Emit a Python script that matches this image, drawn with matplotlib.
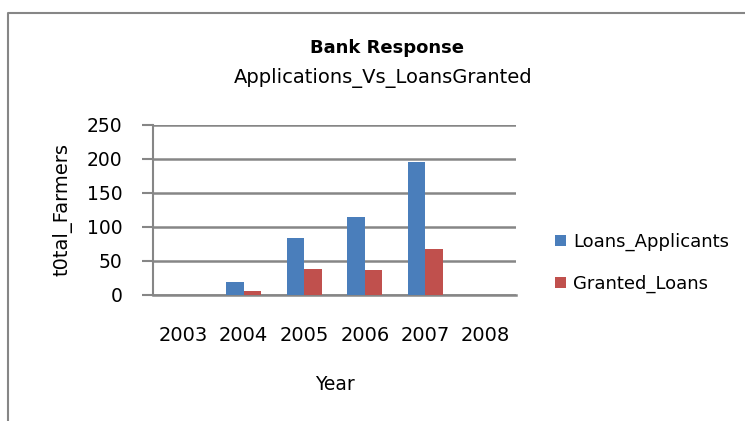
import numpy as np
import matplotlib
matplotlib.use("Agg")
from matplotlib import pyplot as plt
from matplotlib.lines import Line2D

years = ["2003", "2004", "2005", "2006", "2007", "2008"]
applicants = [0, 19, 84, 115, 196, 0]
granted = [0, 6, 38, 37, 68, 0]

blue = "#4a7ebb"
red = "#c0504d"
grey = "#868686"

plt.rcParams["font.family"] = ["DejaVu Sans"]

fig = plt.figure(figsize=(7.45, 4.21), dpi=100)
ax = fig.add_axes([153/745, 1 - 295/421, 363/745, 170/421])

x = np.arange(len(years))
w = 1 / 3.5
ax.bar(x - w/2, applicants, w, color=blue, label="Loans_Applicants", zorder=3)
ax.bar(x + w/2, granted, w, color=red, label="Granted_Loans", zorder=3)

ax.set_xlim(-0.5, len(years) - 0.5)
ax.set_ylim(0, 250)
ax.set_yticks([0, 50, 100, 150, 200, 250])
ax.set_xticks(x)
ax.set_xticklabels(years)
ax.yaxis.grid(True, color=grey, linewidth=1.8, zorder=0)
for s in ["top", "right"]:
    ax.spines[s].set_visible(False)
ax.spines["left"].set_color(grey)
ax.spines["left"].set_linewidth(1.5)
ax.spines["bottom"].set_color(grey)
ax.spines["bottom"].set_linewidth(1.8)
ax.tick_params(axis="y", length=8, width=1.5, color=grey, labelsize=13.5, pad=14)
ax.tick_params(axis="x", length=0, labelsize=14, pad=22)

ax.set_ylabel("t0tal_Farmers", fontsize=14, labelpad=10)
ax.set_xlabel("Year", fontsize=13.5, labelpad=22)

fig.text(387/745, 1 - 48/421, "Bank Response", ha="center", va="center",
         fontsize=13, fontweight="bold")
fig.text(383/745, 1 - 78/421, "Applications_Vs_LoansGranted", ha="center",
         va="center", fontsize=14)

ax.legend(loc="center left", bbox_to_anchor=(539/745, 1 - 263/421),
          bbox_transform=fig.transFigure, frameon=False, fontsize=13,
          handlelength=0.6, handleheight=0.6, handletextpad=0.4,
          labelspacing=1.3)

# outer chart frame
fig.add_artist(Line2D([8/745, 8/745, 1], [0, 1 - 13/421, 1 - 13/421],
                      transform=fig.transFigure, color=grey, linewidth=1.5))

fig.savefig("out.png", dpi=100)
